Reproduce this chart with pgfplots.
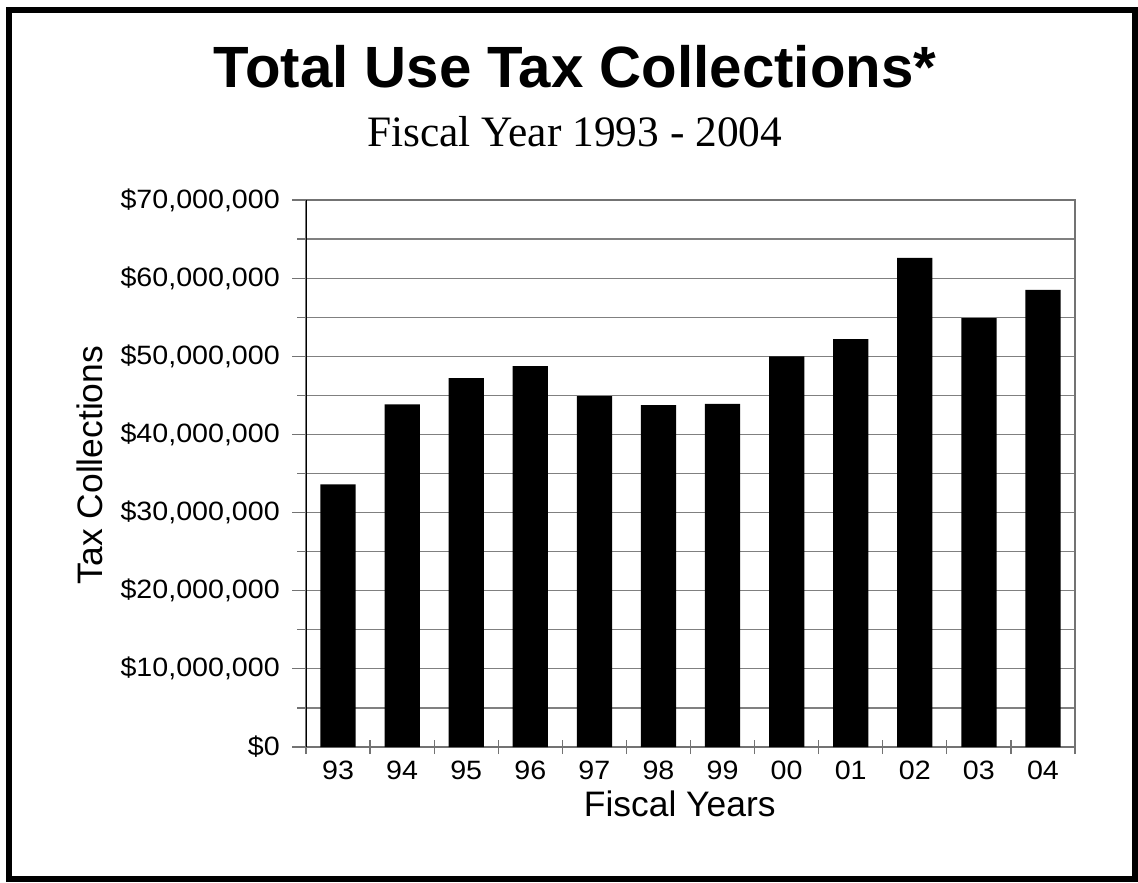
\documentclass[border=0pt]{standalone}
\usepackage{pgfplots}
\pgfplotsset{compat=1.18}
\usepackage{fontspec}
\setmainfont{Liberation Sans}
\newfontfamily\serif{Liberation Serif}
\newfontfamily\tickfont{Liberation Sans}[FakeStretch=1.08]

\begin{document}
\begin{tikzpicture}
\useasboundingbox (0,0) rectangle (569pt,441pt);
% frame round the whole chart
\draw[line width=3pt] (4.5pt,1.5pt) rectangle (567.5pt,436.2pt);
\node[font=\bfseries\fontsize{29.1}{32}\selectfont, anchor=base] at (287.5pt,397pt) {Total Use Tax Collections*};
\node[font=\serif\fontsize{21.7}{25}\selectfont, anchor=base] at (287.3pt,367.5pt) {Fiscal Year 1993 - 2004};
\begin{axis}[
  at={(153pt,67.5pt)}, anchor=south west,
  scale only axis, width=384.5pt, height=273.5pt,
  ybar, bar width=0.55,
  xmin=-0.5, xmax=11.5, ymin=0, ymax=70000000,
  xtick={-0.5,0.5,1.5,2.5,3.5,4.5,5.5,6.5,7.5,8.5,9.5,10.5,11.5},
  xticklabels={93,94,95,96,97,98,99,00,01,02,03,04},
  x tick label as interval,
  ytick={0,10000000,20000000,30000000,40000000,50000000,60000000,70000000},
  yticklabels={{\$0},{\$10,000,000},{\$20,000,000},{\$30,000,000},{\$40,000,000},{\$50,000,000},{\$60,000,000},{\$70,000,000}},
  minor y tick num=1,
  scaled y ticks=false,
  ymajorgrids, yminorgrids,
  major grid style={black!50, line width=0.6pt},
  minor grid style={black!50, line width=0.6pt},
  tick pos=left,
  xtick align=center, ytick align=outside,
  major tick length=7pt, minor tick length=4.5pt,
  tick style={black!55, line width=0.6pt},
  axis line style={black!55, line width=0.6pt},
  tick label style={font=\tickfont\fontsize{13.25}{15}\selectfont},
  yticklabel style={xshift=-2.6pt},
  xlabel={Fiscal Years},
  ylabel={Tax Collections},
  label style={font=\fontsize{17.7}{20}\selectfont},
  xlabel style={at={(rel axis cs:0.486,0)}, anchor=base, yshift=-34.5pt},
  ylabel style={at={(rel axis cs:0,0.5155)}, anchor=base, yshift=101.5pt},
]
\addplot[fill=black, draw=none] coordinates {
  (0,33600000) (1,43850000) (2,47200000) (3,48750000) (4,44900000) (5,43750000)
  (6,43900000) (7,50000000) (8,52200000) (9,62600000) (10,54900000) (11,58500000)
};
\draw[black, line width=0.7pt] (rel axis cs:0,0) -- (rel axis cs:0,1);
\end{axis}
\end{tikzpicture}
\end{document}
